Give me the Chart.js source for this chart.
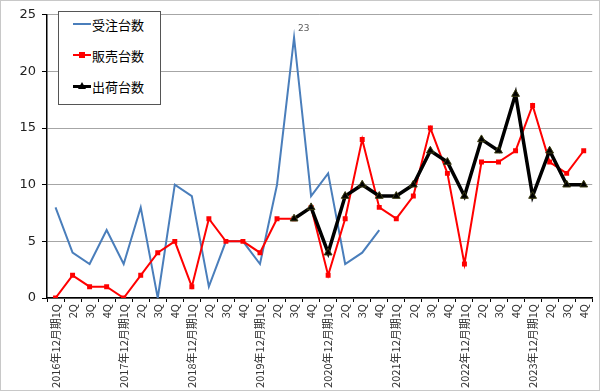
<!DOCTYPE html>
<html>
<head>
<meta charset="utf-8">
<script src="https://cdn.jsdelivr.net/npm/chart.js@4.4.1/dist/chart.umd.min.js"></script>
<style>
  html, body { margin: 0; padding: 0; background: #fff; }
  .wrap { position: relative; width: 600px; height: 391px; box-sizing: border-box; border: 1px solid #c8c8c8; }
  canvas { display: block; }
  .legend { position: absolute; left: 57px; top: 10px; width: 101px; height: 92px; border: 1px solid #555; background: #fff;
            font-family: "Noto Sans CJK JP", sans-serif; font-size: 13px; color: #000; }
  .legend .item { position: absolute; left: 14px; height: 16px; display: flex; align-items: center; }
  .legend .swatch { position: relative; width: 18px; height: 10px; margin-right: 1px; }
  .legend .swatch i { position: absolute; left: 0; right: 0; top: 4px; }
  .legend .swatch b { position: absolute; }
</style>
</head>
<body>
<div class="wrap">
  <canvas id="chart" width="598" height="389"></canvas>
  <div class="legend">
    <div class="item" style="top:4px"><span class="swatch"><i style="height:2px;background:#4a7ebb"></i></span>受注台数</div>
    <div class="item" style="top:35px"><span class="swatch"><i style="height:2px;background:#ff0000"></i><b style="left:6px;top:2px;width:6px;height:6px;background:#ff0000"></b></span>販売台数</div>
    <div class="item" style="top:66px"><span class="swatch"><i style="height:3px;top:4px;background:#000"></i><b style="left:5px;top:1px;width:0;height:0;border-left:4px solid transparent;border-right:4px solid transparent;border-bottom:7px solid #000"></b></span>出荷台数</div>
  </div>
</div>
<script>
const years = ['2016', '2017', '2018', '2019', '2020', '2021', '2022', '2023'];
const quarters = ['1Q', '2Q', '3Q', '4Q'];
const labels = [];
years.forEach(y => quarters.forEach((q, i) => labels.push(i === 0 ? y + '年12月期' + q : q)));

const orders = [8, 4, 3, 6, 3, 8, 0, 10, 9, 1, 5, 5, 3, 10, 23, 9, 11, 3, 4, 6,
  null, null, null, null, null, null, null, null, null, null, null, null];
const sales = [0, 2, 1, 1, 0, 2, 4, 5, 1, 7, 5, 5, 4, 7, 7, 8, 2, 7, 14, 8,
  7, 9, 15, 11, 3, 12, 12, 13, 17, 12, 11, 13];
const shipments = [null, null, null, null, null, null, null, null, null, null, null, null, null, null, 7, 8, 4, 9, 10, 9,
  9, 10, 13, 12, 9, 14, 13, 18, 9, 13, 10, 10];

const yTicks = [0, 5, 10, 15, 20, 25];

// value label over the 受注台数 peak
const peakLabel = {
  id: 'peakLabel',
  afterDatasetsDraw(chart) {
    const meta = chart.getDatasetMeta(0);
    const idx = orders.indexOf(Math.max(...orders.filter(v => v !== null)));
    const pt = meta.data[idx];
    const ctx = chart.ctx;
    ctx.save();
    ctx.fillStyle = '#595959';
    ctx.font = '9px "DejaVu Sans", sans-serif';
    ctx.textAlign = 'left';
    ctx.textBaseline = 'bottom';
    ctx.fillText(String(orders[idx]), pt.x + 4, pt.y - 4);
    ctx.restore();
  }
};

new Chart(document.getElementById('chart'), {
  type: 'line',
  data: {
    labels: labels,
    datasets: [
      {
        label: '受注台数', data: orders, borderColor: '#4a7ebb', borderWidth: 2,
        pointRadius: 0, tension: 0, order: 3
      },
      {
        label: '販売台数', data: sales, borderColor: '#ff0000', backgroundColor: '#ff0000', borderWidth: 2,
        pointStyle: 'rect', pointRadius: 3.5, pointBorderWidth: 0, tension: 0, order: 2
      },
      {
        label: '出荷台数', data: shipments, borderColor: '#000', backgroundColor: '#000', borderWidth: 3.5,
        pointStyle: 'triangle', pointRadius: 4.5, pointBorderWidth: 1, pointBorderColor: '#3a3a10',
        tension: 0, order: 1
      }
    ]
  },
  options: {
    responsive: false,
    animation: false,
    layout: { padding: { left: 0, right: 5, top: 11, bottom: 0 } },
    plugins: { legend: { display: false }, tooltip: { enabled: false } },
    scales: {
      x: {
        offset: true,
        afterFit(axis) { axis.height = 92; },
        grid: { offset: true, drawOnChartArea: false, drawTicks: true, tickLength: 4, color: '#000' },
        border: { color: '#000', width: 1.5 },
        ticks: {
          autoSkip: false, maxRotation: 90, minRotation: 90, padding: 2,
          color: '#333', font: { family: '"Noto Sans CJK JP", sans-serif', size: 11 }
        }
      },
      y: {
        min: 0, max: 25,
        afterFit(axis) { axis.width = 46; },
        afterBuildTicks(axis) { axis.ticks = yTicks.map(v => ({ value: v })); },
        grid: { color: '#a6a6a6', lineWidth: 1, tickColor: '#000', tickLength: 5 },
        border: { color: '#000', width: 1.5 },
        ticks: { padding: 6, color: '#222', font: { family: '"DejaVu Sans", sans-serif', size: 13 } }
      }
    }
  },
  plugins: [peakLabel]
});
</script>
</body>
</html>
